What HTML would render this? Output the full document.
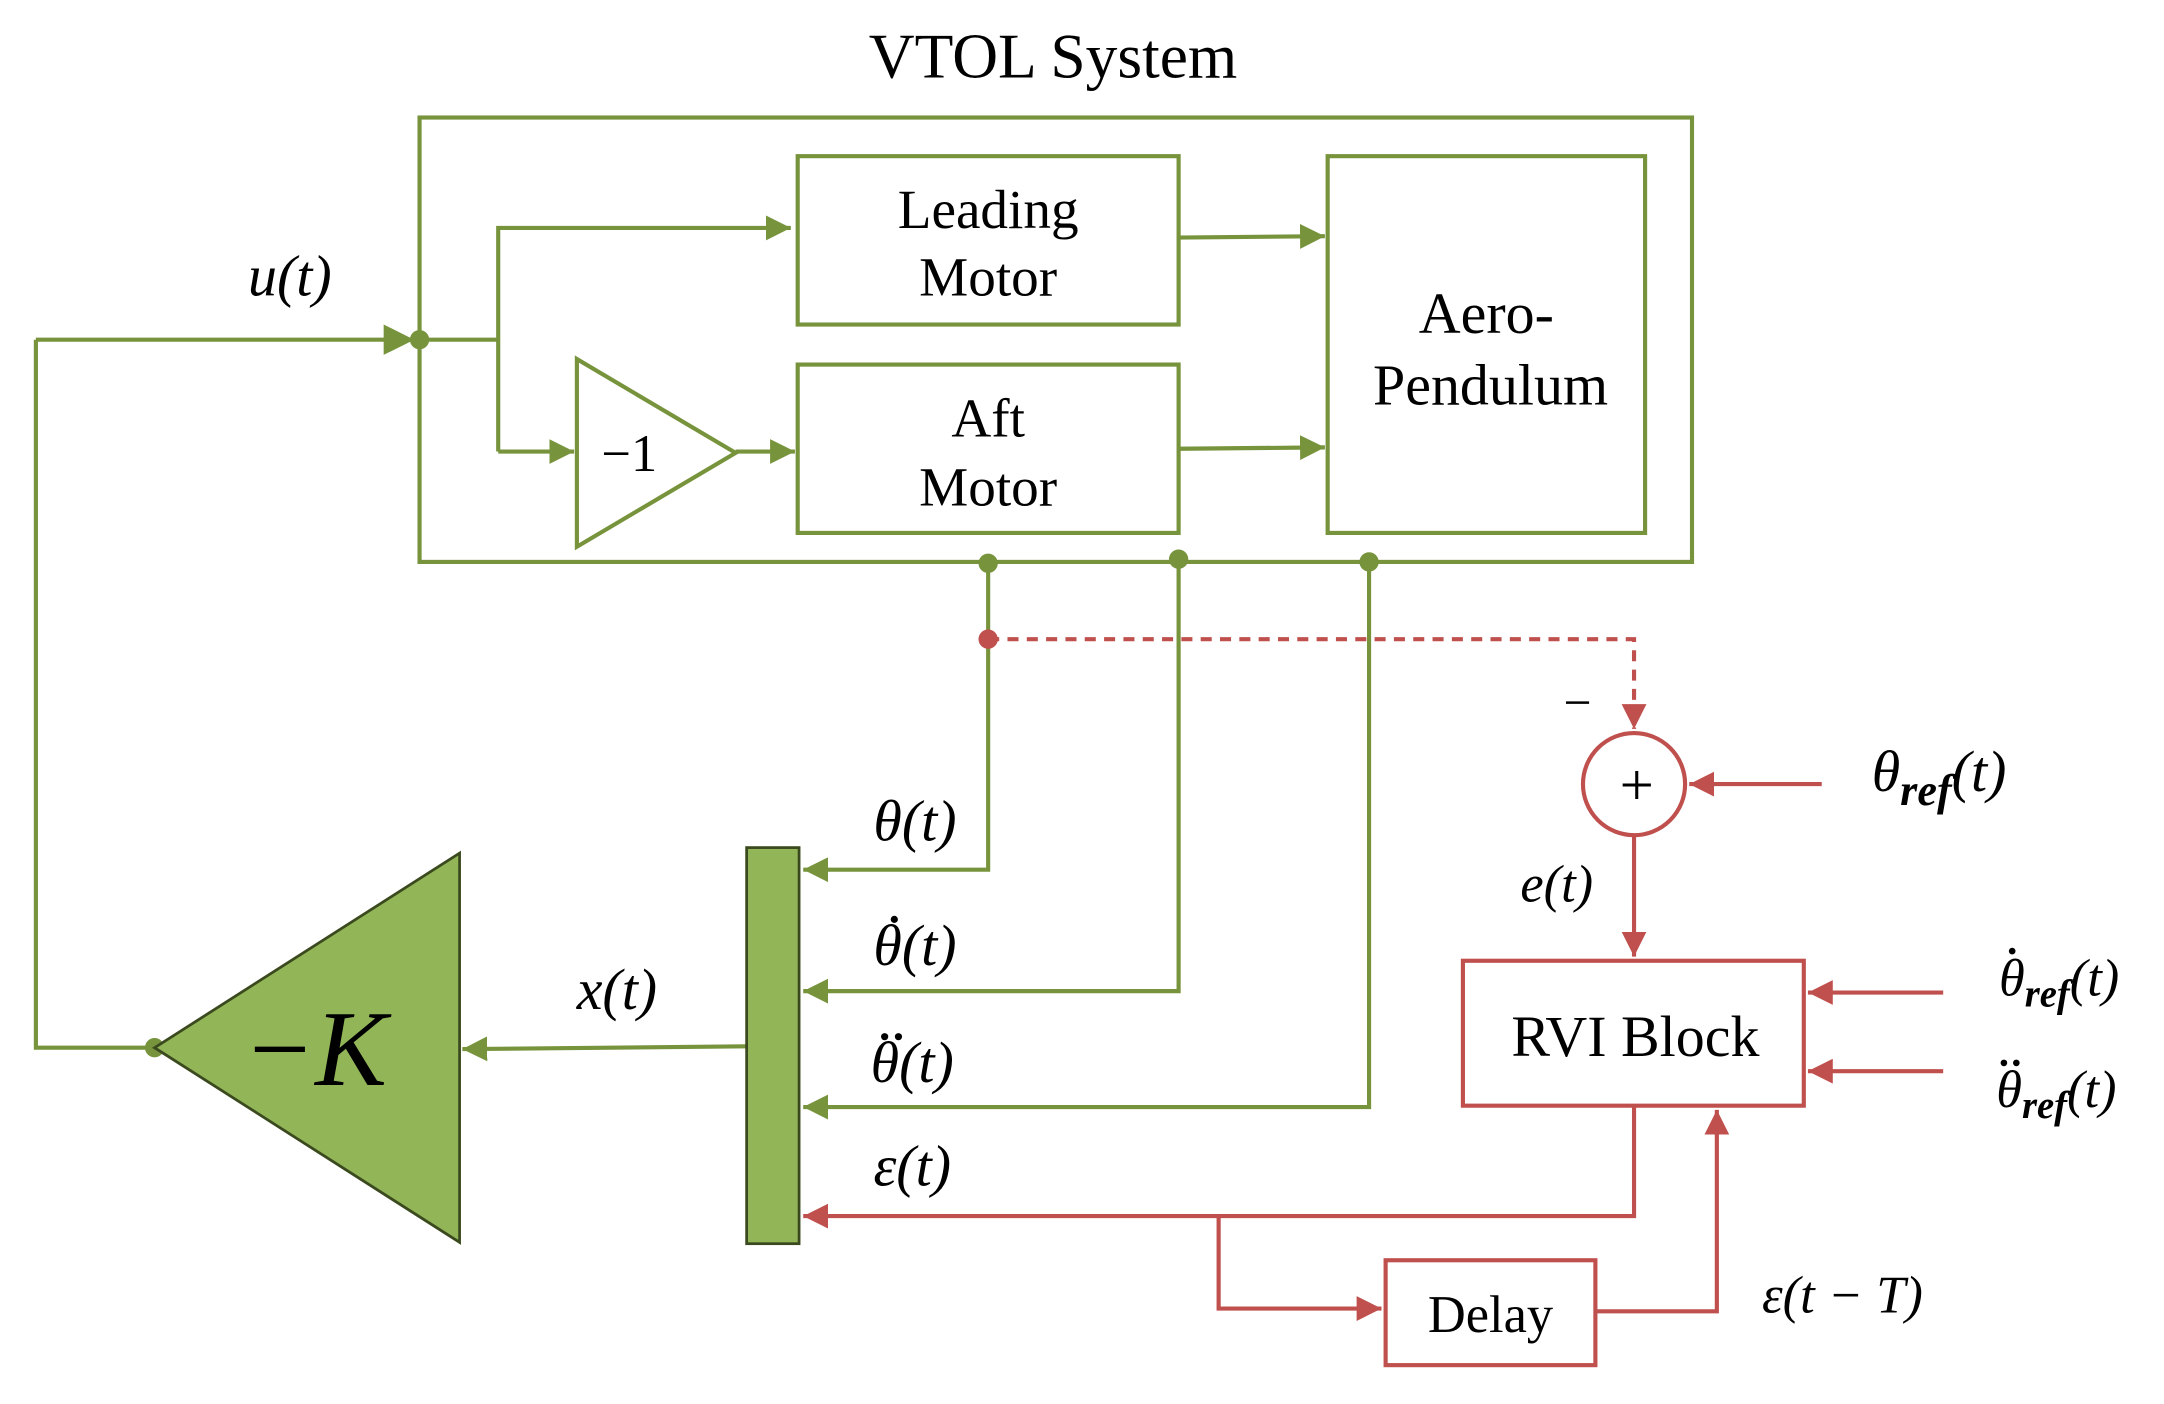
<!DOCTYPE html>
<html><head><meta charset="utf-8"><style>
html,body{margin:0;padding:0;background:#fff;}
svg{display:block;}
text{font-family:"Liberation Serif",serif;}
.m{font-style:italic;}
</style></head><body>
<svg width="2164" height="1404" viewBox="0 0 1568 1017" xmlns="http://www.w3.org/2000/svg">
<defs>
<marker id="ag" viewBox="0 0 10 10" refX="10" refY="5" markerWidth="6" markerHeight="6" orient="auto"><path d="M0,0L10,5L0,10z" fill="#77933C"/></marker>
<marker id="ar" viewBox="0 0 10 10" refX="10" refY="5" markerWidth="6" markerHeight="6" orient="auto"><path d="M0,0L10,5L0,10z" fill="#C0504D"/></marker>
</defs>
<g fill="none" stroke="#77933C" stroke-width="3">
<rect x="304" y="85" width="922" height="322"/>
<rect x="578" y="113" width="276" height="122"/>
<rect x="578" y="264" width="276" height="122"/>
<rect x="962" y="113" width="230" height="273"/>
<polygon points="418,260 418,396 533,328"/>
<line x1="26" y1="246" x2="300" y2="246" marker-end="url(#ag)"/>
<polyline points="304,246 361,246"/>
<polyline points="361,327 361,165 573,165" marker-end="url(#ag)"/>
<line x1="361" y1="327" x2="416" y2="327" marker-end="url(#ag)"/>
<line x1="533" y1="327" x2="576" y2="327" marker-end="url(#ag)"/>
<line x1="854" y1="172" x2="960" y2="171" marker-end="url(#ag)"/>
<line x1="854" y1="325" x2="960" y2="324" marker-end="url(#ag)"/>
<polyline points="716,408 716,630 582,630" marker-end="url(#ag)"/>
<polyline points="854,405 854,718 582,718" marker-end="url(#ag)"/>
<polyline points="992,407 992,802 582,802" marker-end="url(#ag)"/>
<line x1="541" y1="758" x2="335" y2="760" marker-end="url(#ag)"/>
<polyline points="112,759 26,759 26,246"/>
</g>
<path d="M278,235 L300,246 L278,257z" fill="#77933C"/>
<g fill="#77933C"><circle cx="304" cy="246" r="7"/><circle cx="716" cy="408" r="7"/><circle cx="854" cy="405" r="7"/><circle cx="992" cy="407" r="7"/><circle cx="112" cy="759" r="7"/></g>
<rect x="541" y="614" width="38" height="287" fill="#92B558" stroke="#3b4a1e" stroke-width="2"/>
<polygon points="333,618 333,900 112,759" fill="#92B558" stroke="#3b4a1e" stroke-width="2"/>
<g fill="none" stroke="#C0504D" stroke-width="3">
<polyline points="716,463 1184,463 1184,528" stroke-dasharray="8,6" marker-end="url(#ar)"/>
<circle cx="1184" cy="568" r="37"/>
<line x1="1320" y1="568" x2="1224" y2="568" marker-end="url(#ar)"/>
<line x1="1184" y1="605" x2="1184" y2="693" marker-end="url(#ar)"/>
<rect x="1060" y="696" width="247" height="105"/>
<line x1="1408" y1="719" x2="1310" y2="719" marker-end="url(#ar)"/>
<line x1="1408" y1="776" x2="1310" y2="776" marker-end="url(#ar)"/>
<polyline points="1184,801 1184,881 582,881" marker-end="url(#ar)"/>
<polyline points="883,881 883,948 1001,948" marker-end="url(#ar)"/>
<rect x="1004" y="913" width="152" height="76"/>
<polyline points="1156,950 1244,950 1244,804" marker-end="url(#ar)"/>
</g>
<circle cx="716" cy="463" r="7" fill="#C0504D"/>
<g font-size="42" fill="#000" text-anchor="middle">
<text x="763" y="56" font-size="46">VTOL System</text>
<text x="716" y="165" font-size="40">Leading</text>
<text x="716" y="214" font-size="40">Motor</text>
<text x="716" y="316" font-size="40">Aft</text>
<text x="716" y="366" font-size="40">Motor</text>
<text x="1077" y="241" font-size="42">Aero-</text>
<text x="1080" y="293" font-size="42">Pendulum</text>
<text x="456" y="341" font-size="38">−1</text>
<text x="1185" y="765" font-size="42">RVI Block</text>
<text x="1080" y="965" font-size="38">Delay</text>
<text x="1186" y="583" font-size="44">+</text>
<text x="1143" y="521" font-size="36">−</text>
<text x="228" y="786" font-size="78" class="m">−K</text>
<text x="210" y="214" class="m">u(t)</text>
<text x="447" y="731" class="m">x(t)</text>
<text x="663" y="609" class="m">θ(t)</text>
<text x="663" y="699" class="m">θ(t)</text>
<text x="661" y="784" class="m">θ(t)</text>
<text x="661" y="859" class="m">ε(t)</text>
<text x="1128" y="653" font-size="38" class="m">e(t)</text>
<text x="1335" y="951" font-size="38" class="m">ε(t − T)</text>
<text x="1405" y="573" class="m">θ<tspan font-size="32" dy="10" font-weight="bold">ref</tspan><tspan dy="-10">(t)</tspan></text>
<text x="1492" y="721" font-size="38" class="m">θ<tspan font-size="28" dy="8" font-weight="bold">ref</tspan><tspan dy="-8">(t)</tspan></text>
<text x="1490" y="802" font-size="38" class="m">θ<tspan font-size="28" dy="8" font-weight="bold">ref</tspan><tspan dy="-8">(t)</tspan></text>
</g>
<g fill="#000">
<circle cx="648" cy="666" r="2.6"/>
<circle cx="641" cy="751" r="2.6"/><circle cx="651" cy="751" r="2.6"/>
<circle cx="1458" cy="689" r="2.4"/>
<circle cx="1452" cy="770" r="2.4"/><circle cx="1461" cy="770" r="2.4"/>
</g>
</svg>
</body></html>
